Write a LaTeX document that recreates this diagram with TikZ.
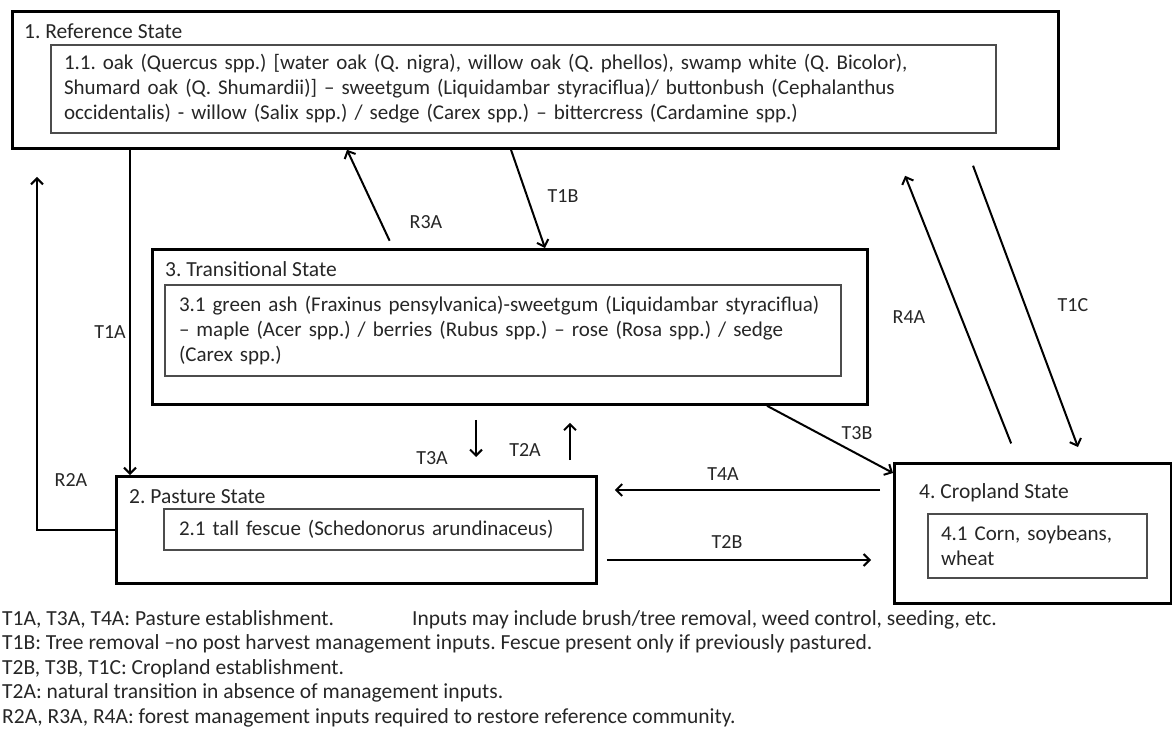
\documentclass[tikz,border=0pt]{standalone}
\usepackage{fontspec}
\setmainfont{Carlito}
\usetikzlibrary{arrows.meta,calc}
\frenchspacing

\tikzset{
    statebox/.style={draw, line width=2.8pt, anchor=north west, inner sep=0pt},
    statename/.style={anchor=west, inner sep=0pt, text=black!85, font=\fontsize{21.5}{25}\selectfont},
    commbox/.style={draw=black!70, line width=2pt, anchor=north west, align=left, inner ysep=0pt,
                    text=black!85, font=\fontsize{21}{25}\selectfont},
    trans/.style={line width=2pt, -{Straight Barb[length=6pt,width=12pt,line width=2pt]}},
    translabel/.style={inner sep=0pt, text=black!85, font=\fontsize{20}{24}\selectfont},
}

\begin{document}
\begin{tikzpicture}[x=1pt, y=-1pt]

                \useasboundingbox (0,0) rectangle (1172,738);

                % states
                \node[statebox, minimum width=1046pt, minimum height=137pt] (ref) at (11,10) {};
                \node[statebox, minimum width=715pt, minimum height=155pt] (trs) at (151,248) {};
                \node[statebox, minimum width=480pt, minimum height=107pt] (past) at (115,475) {};
                \node[statebox, minimum width=277pt, minimum height=140pt] (crop) at (893,462) {};

                \node[statename] (refname) at (24,31) {1. Reference State};
                \node[statename] (trsname) at (165,269) {3. Transitional State};
                \node[statename] (pastname) at (129,497) {2. Pasture State};
                \node[statename] (cropname) at (919,493) {4. Cropland State};

                % communities
                \node[commbox, inner xsep=13pt, text width=919pt, minimum height=88pt] (refcomm) at (50,44)
                    {1.1. oak (Quercus spp.) [water oak (Q. nigra), willow oak (Q. phellos), swamp white (Q. Bicolor),\\
                     Shumard oak (Q. Shumardii)] -- sweetgum (Liquidambar styraciflua)/ buttonbush (Cephalanthus\\
                     occidentalis) - willow (Salix spp.) / sedge (Carex spp.) -- bittercress (Cardamine spp.)};
                \node[commbox, inner xsep=14pt, text width=648pt, minimum height=91pt] (trscomm) at (164,284)
                    {3.1 green ash (Fraxinus pensylvanica)-sweetgum (Liquidambar styraciflua)\\
                     -- maple (Acer spp.) / berries (Rubus spp.) -- rose (Rosa spp.) / sedge\\
                     (Carex spp.)};
                \node[commbox, inner xsep=15pt, text width=389pt, minimum height=41pt] (pastcomm) at (163,508)
                    {2.1 tall fescue (Schedonorus arundinaceus)};
                \node[commbox, inner xsep=13pt, text width=193pt, minimum height=64pt] (cropcomm) at (927,513)
                    {4.1 Corn, soybeans,\\ wheat};

                % transitions and restoration pathways
                \coordinate (r2aend) at (37,177);
                \draw[trans] ($(ref.south west)+(119,0)$) -- ($(past.north west)+(15,0)$);
                \draw[trans] (past.west) -| (r2aend);
                \draw[trans, shorten <=8pt] ($(trs.north west)+(242,0)$) -- ($(ref.south west)+(336,0)$);
                \draw[trans] ($(ref.south west)+(500,0)$) -- ($(trs.north west)+(394,0)$);
                \draw[trans, shorten <=20pt, shorten >=28pt] ($(crop.north west)+(125.5,0)$) -- ($(ref.south west)+(883.8,0)$);
                \draw[trans, shorten <=17pt, shorten >=16pt] ($(ref.south west)+(956.1,0)$) -- ($(crop.north west)+(190.5,0)$);
                \draw[trans] ($(trs.south west)+(616,0)$) -- ($(crop.north west)+(0,11)$);
                \draw[trans, shorten <=14pt, shorten >=18pt] ($(trs.south west)+(325,0)$) -- ($(past.north west)+(361,0)$);
                \draw[trans, shorten <=15pt, shorten >=17pt] ($(past.north west)+(455,0)$) -- ($(trs.south west)+(419,0)$);
                \draw[trans, shorten <=13pt, shorten >=17pt] ($(crop.north west)+(0,28)$) -- ($(past.north east)+(0,15)$);
                \draw[trans, shorten <=9pt, shorten >=22pt] ($(past.north east)+(0,85)$) -- ($(crop.north west)+(0,98)$);

                \node[translabel] (t1a) at (110,332) {T1A};
                \node[translabel] (r2a) at (71,480) {R2A};
                \node[translabel] (r3a) at (426,222) {R3A};
                \node[translabel] (t1b) at (563,196) {T1B};
                \node[translabel] (r4a) at (909,317) {R4A};
                \node[translabel] (t1c) at (1073,305) {T1C};
                \node[translabel] (t3b) at (857,433) {T3B};
                \node[translabel] (t3a) at (432,458) {T3A};
                \node[translabel] (t2a) at (525,450) {T2A};
                \node[translabel] (t4a) at (723,474) {T4A};
                \node[translabel] (t2b) at (727,542) {T2B};

                % legend
                \node[anchor=north west, align=left, inner sep=0pt, text=black!85,
                      font=\fontsize{21.5}{24.5}\selectfont] (legend) at (2,610)
                    {\makebox[410pt][l]{T1A, T3A, T4A: Pasture establishment.}Inputs may include brush/tree removal, weed control, seeding, etc.\\
                     T1B: Tree removal --no post harvest management inputs. Fescue present only if previously pastured.\\
                     T2B, T3B, T1C: Cropland establishment.\\
                     T2A: natural transition in absence of management inputs.\\
                     R2A, R3A, R4A: forest management inputs required to restore reference community.};

\end{tikzpicture}
\end{document}
